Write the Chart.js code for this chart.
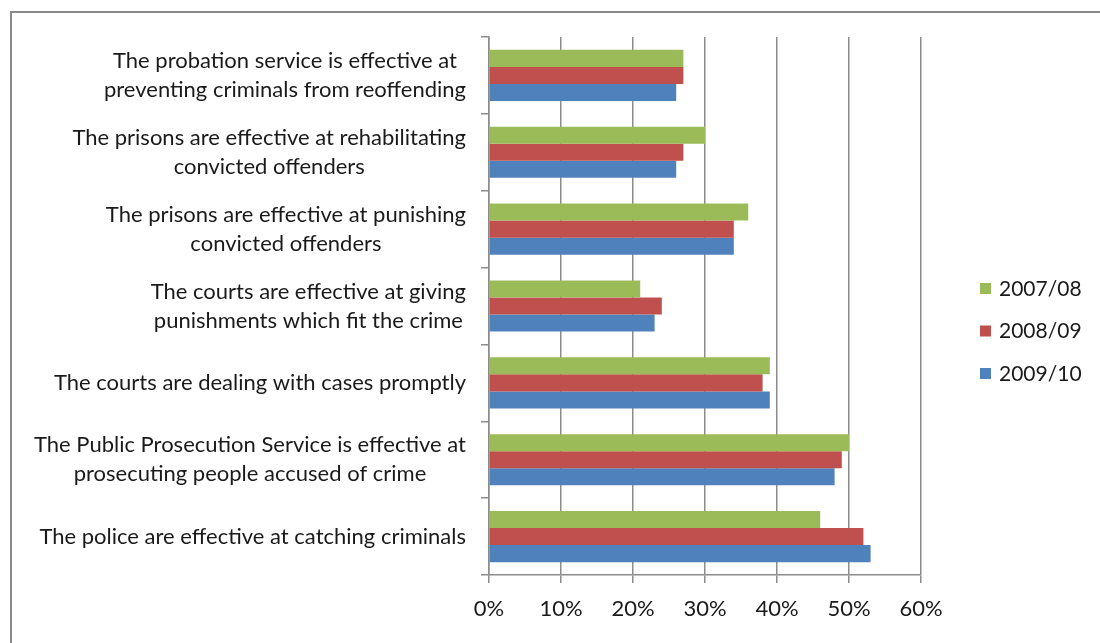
<!DOCTYPE html>
<html>
<head>
<meta charset="utf-8">
<script src="https://cdn.jsdelivr.net/npm/chart.js@4.4.1/dist/chart.umd.min.js"></script>
<style>
    html, body { margin: 0; padding: 0; background: #fff; }
    #wrap { position: relative; width: 1100px; height: 643px; overflow: hidden; }
    #frame { position: absolute; left: 10px; top: 11px; width: 1200px; height: 800px; border: 2px solid #8a8a8a; }
    #chart { position: absolute; left: 0; top: 0; }
</style>
</head>
<body>
<div id="wrap">
    <div id="frame"></div>
    <canvas id="chart" width="1100" height="643"></canvas>
</div>
<script>
// statements, top to bottom
const categories = [
    ['The probation service is effective at', 'preventing criminals from reoffending'],
    ['The prisons are effective at rehabilitating', 'convicted offenders'],
    ['The prisons are effective at punishing', 'convicted offenders'],
    ['The courts are effective at giving', 'punishments which fit the crime'],
    ['The courts are dealing with cases promptly'],
    ['The Public Prosecution Service is effective at', 'prosecuting people accused of crime'],
    ['The police are effective at catching criminals']
];
const seriesNames = ['2007/08', '2008/09', '2009/10'];
const values0708 = [27, 30, 36, 21, 39, 50, 46];
const values0809 = [27, 27, 34, 24, 38, 49, 52];
const values0910 = [26, 26, 34, 23, 39, 48, 53];
const seriesColors = ['#9BBB59', '#C0504D', '#4F81BD'];

const FONT = 'Lato';
const TEXT = '#1a1a1a';
const GRID = '#8c8c8c';

// category labels: each block right-aligned to the axis, lines centred inside it
const labelPlugin = {
    id: 'catLabels',
    afterDraw(chart) {
        const ctx = chart.ctx;
        const yScale = chart.scales.y;
        ctx.save();
        ctx.font = '22px ' + FONT;
        ctx.fillStyle = TEXT;
        ctx.textAlign = 'center';
        ctx.textBaseline = 'middle';
        categories.forEach((lines, i) => {
            const cy = yScale.getPixelForTick(i);
            const w = Math.max(...lines.map(l => ctx.measureText(l).width));
            const cx = 466 - w / 2;
            lines.forEach((line, j) => {
                ctx.fillText(line, cx, cy + (j - (lines.length - 1) / 2) * 29);
            });
        });
        ctx.restore();
    }
};

const legendPlugin = {
    id: 'sideLegend',
    afterDraw(chart) {
        const ctx = chart.ctx;
        ctx.save();
        ctx.font = '21px ' + FONT;
        ctx.textBaseline = 'middle';
        chart.data.datasets.forEach((ds, i) => {
            const y = 289 + i * 42.5;
            ctx.fillStyle = ds.backgroundColor;
            ctx.fillRect(980, y - 6, 11, 11);
            ctx.fillStyle = TEXT;
            ctx.fillText(ds.label, 999, y);
        });
        ctx.restore();
    }
};

new Chart(document.getElementById('chart'), {
    type: 'bar',
    data: {
        labels: categories,
        datasets: [
            { label: seriesNames[0], data: values0708, backgroundColor: seriesColors[0] },
            { label: seriesNames[1], data: values0809, backgroundColor: seriesColors[1] },
            { label: seriesNames[2], data: values0910, backgroundColor: seriesColors[2] }
        ]
    },
    options: {
        indexAxis: 'y',
        responsive: false,
        animation: false,
        devicePixelRatio: 1,
        categoryPercentage: 0.665,
        barPercentage: 1,
        layout: { padding: { left: 0, top: 37, right: 179, bottom: 0 } },
        plugins: {
            legend: { display: false },
            tooltip: { enabled: false }
        },
        scales: {
            x: {
                min: 0,
                max: 60,
                ticks: {
                    stepSize: 10,
                    padding: 13,
                    color: TEXT,
                    font: { family: FONT, size: 22 },
                    callback: v => v + '%'
                },
                grid: { color: GRID, lineWidth: 1.5, tickLength: 8 },
                border: { color: GRID, width: 1.5 },
                afterFit(scale) { scale.height = 68; }
            },
            y: {
                ticks: { display: false },
                grid: { color: GRID, lineWidth: 1.5, tickLength: 8, drawOnChartArea: false, offset: true },
                border: { color: GRID, width: 1.5 },
                afterFit(scale) { scale.width = 489; }
            }
        }
    },
    plugins: [labelPlugin, legendPlugin]
});
</script>
</body>
</html>
